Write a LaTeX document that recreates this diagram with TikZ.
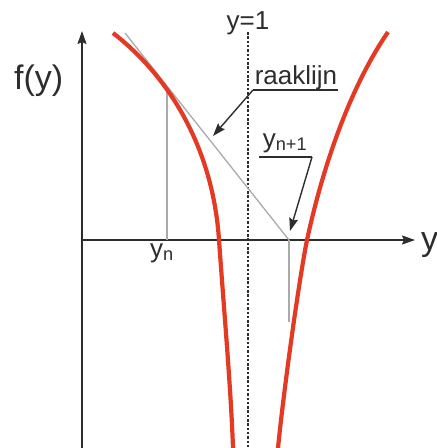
\documentclass[tikz,border=0pt]{standalone}
\usepackage{fontspec}
\setmainfont{Liberation Sans}
\usetikzlibrary{arrows.meta}

\definecolor{curvered}{RGB}{228,58,36}
\definecolor{axisgray}{RGB}{45,45,45}
\definecolor{helpgray}{RGB}{170,170,170}

\tikzset{
  axis/.style={draw=axisgray, line width=1.6pt, -{Stealth[length=13pt, width=9pt, inset=2pt]}},
  redcurve/.style={draw=curvered, line width=4.2pt, line cap=butt},
  helpline/.style={draw=helpgray, line width=1.3pt},
  pointer/.style={draw=axisgray, line width=1.4pt, -{Stealth[length=13pt, width=9pt, inset=2pt]}},
  label/.style={inner sep=0pt, font=\fontsize{26}{30}\selectfont, text=axisgray},
  biglabel/.style={label, font=\fontsize{34}{40}\selectfont},
}

\begin{document}
\begin{tikzpicture}[x=1pt, y=-1pt]
\useasboundingbox (0,0) rectangle (437,448);

\coordinate (O) at (82,240);
\coordinate (Ybot) at (82,448);
\coordinate (Ytop) at (82,31);
\coordinate (Xend) at (415,240);
\coordinate (Atop) at (248,32);
\coordinate (Abot) at (248,448);

% assen en asymptoot
\draw[axis] (Ybot) -- (Ytop);
\draw[axis] (O) -- (Xend);
\draw[axisgray, line width=1.6pt, dash pattern=on 2.5pt off 1.8pt] (Atop) -- (Abot);

% raaklijn en hulplijnen
\coordinate (T) at (167,92);
\coordinate (Tstart) at (125,33);
\coordinate (Yn) at (167,240);
\coordinate (Yn1) at (289,240);
\coordinate (Yn1low) at (289,322);
\draw[helpline] (Tstart) -- (Yn1);
\draw[helpline] (T) -- (Yn);
\draw[helpline] (Yn1) -- (Yn1low);

% functie
\draw[redcurve] (113,33) .. controls (171,78) and (213,150) .. (219,240)
  .. controls (224,310) and (231,390) .. (233,448);
\draw[redcurve] (388,32) .. controls (345,95) and (320,180) .. (307,240)
  .. controls (299,280) and (284,388) .. (278,448);

% teksten
\node[biglabel, anchor=base west] (fy) at (14,89) {f(y)};
\node[biglabel, anchor=base west] (yax) at (421,250) {y};
\node[label, anchor=base] (asym) at (248,29) {y=1};
\node[label, anchor=base] (yn) at (162,257) {y\textsubscript{n}};
\node[label, anchor=base] (raak) at (296,84) {raaklijn};
\node[label, anchor=base] (yn1) at (285,147) {y\textsubscript{n+1}};

\coordinate (raakL) at (253,90);
\coordinate (raakR) at (338,90);
\coordinate (raakTip) at (213,136);
\coordinate (yn1L) at (259,157);
\coordinate (yn1R) at (312,157);
\coordinate (yn1Tip) at (290,231);
\draw[axisgray, line width=1.4pt] (raakR) -- (raakL);
\draw[pointer] (raakL) -- (raakTip);
\draw[axisgray, line width=1.4pt] (yn1L) -- (yn1R);
\draw[pointer] (yn1R) -- (yn1Tip);
\end{tikzpicture}
\end{document}
